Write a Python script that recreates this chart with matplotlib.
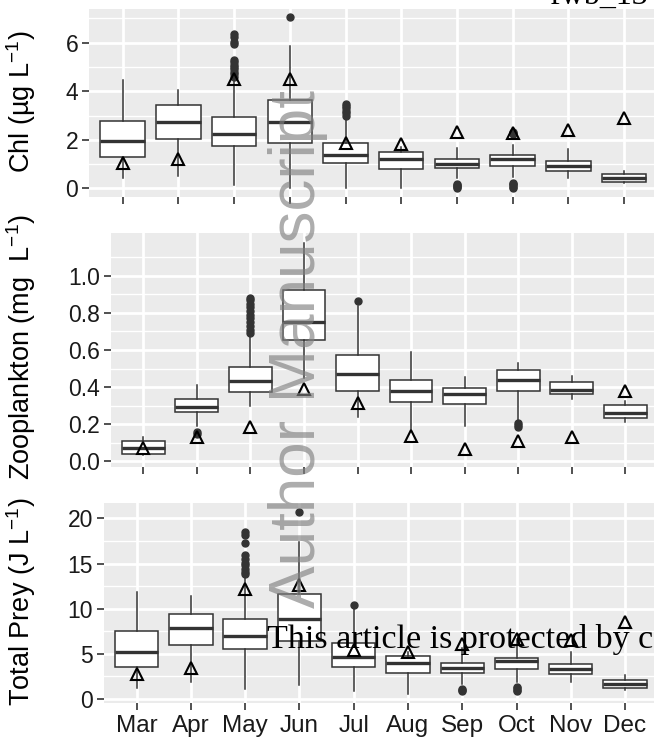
import matplotlib
matplotlib.use('Agg')
import matplotlib.pyplot as plt

plt.rcParams['font.family'] = ['Liberation Sans', 'DejaVu Sans']
plt.rcParams['mathtext.fontset'] = 'custom'
plt.rcParams['mathtext.rm'] = 'Liberation Sans'
plt.rcParams['mathtext.it'] = 'Liberation Sans:italic'

months = ['Mar', 'Apr', 'May', 'Jun', 'Jul', 'Aug', 'Sep', 'Oct', 'Nov', 'Dec']

# Chl (ug/L)
chl_lo = [0.44, 0.51, 0.14, 0.0, 0.0, 0.0, 0.42, 0.45, 0.41, 0.21]
chl_q1 = [1.30, 2.03, 1.76, 1.88, 1.03, 0.80, 0.82, 0.92, 0.71, 0.25]
chl_med = [1.96, 2.75, 2.24, 2.73, 1.37, 1.20, 1.00, 1.21, 0.92, 0.41]
chl_q3 = [2.79, 3.42, 2.93, 3.64, 1.86, 1.48, 1.21, 1.36, 1.13, 0.58]
chl_hi = [4.46, 4.05, 4.50, 5.87, 2.95, 1.72, 1.65, 1.79, 1.61, 0.73]
chl_tri = [1.03, 1.20, 4.50, 4.50, 1.86, 1.83, 2.31, 2.29, 2.40, 2.91]
chl_out = [[], [],
           [4.6, 4.7, 4.8, 4.9, 5.0, 5.1, 5.2, 5.3, 5.95, 6.05, 6.25, 6.38],
           [7.05],
           [3.0, 3.1, 3.2, 3.3, 3.4, 3.48],
           [],
           [0.0, 0.05, 0.1, 0.15, 0.2],
           [0.02, 0.07, 0.12, 0.17, 0.22, 2.26, 2.3, 2.34],
           [], []]

# Zooplankton (mg/L)
zoo_lo = [0.036, 0.19, 0.30, 0.449, 0.237, 0.162, 0.189, 0.215, 0.336, 0.215]
zoo_q1 = [0.04, 0.266, 0.373, 0.652, 0.382, 0.32, 0.309, 0.377, 0.363, 0.233]
zoo_med = [0.075, 0.294, 0.433, 0.749, 0.47, 0.379, 0.364, 0.44, 0.384, 0.259]
zoo_q3 = [0.108, 0.336, 0.506, 0.923, 0.571, 0.438, 0.393, 0.49, 0.429, 0.303]
zoo_hi = [0.13, 0.41, 0.68, 1.174, 0.835, 0.589, 0.452, 0.53, 0.461, 0.323]
zoo_tri = [0.075, 0.13, 0.185, 0.39, 0.314, 0.135, 0.068, 0.111, 0.133, 0.377]
zoo_out = [[], [0.15, 0.156],
           [0.69, 0.71, 0.73, 0.75, 0.77, 0.79, 0.81, 0.83, 0.85, 0.87, 0.88],
           [], [0.862], [], [],
           [0.185, 0.195, 0.205],
           [], []]

# Total prey (J/L)
prey_lo = [1.19, 1.85, 1.04, 1.48, 0.85, 0.56, 1.67, 1.85, 1.85, 0.93]
prey_q1 = [3.52, 5.93, 5.56, 6.44, 3.52, 2.85, 2.85, 3.33, 2.78, 1.19]
prey_med = [5.19, 7.89, 7.0, 8.89, 4.63, 4.0, 3.44, 4.19, 3.33, 1.67]
prey_q3 = [7.52, 9.44, 8.85, 11.67, 6.19, 4.74, 4.0, 4.52, 3.85, 2.11]
prey_hi = [11.85, 11.4, 13.7, 17.4, 10.0, 5.2, 5.6, 6.6, 5.2, 2.6]
prey_tri = [2.78, 3.41, 12.15, 12.6, 5.37, 5.19, 6.1, 6.67, 6.48, 8.52]
prey_out = [[], [],
            [13.8, 14.1, 14.4, 14.8, 15.1, 15.5, 15.9, 17.3, 18.2, 18.5],
            [20.74], [10.37], [],
            [0.85, 0.95, 1.05],
            [0.85, 1.0, 1.15, 1.3],
            [], []]

W, H = 654, 742
fig = plt.figure(figsize=(W / 100, H / 100), dpi=100)

BG = '#EBEBEB'
EDGE = '#333333'


def panel(rect, lo, q1, med, q3, hi, tri, out, ylim, yticks, yticklabels, minor):
    ax = fig.add_axes(rect)
    ax.set_facecolor(BG)
    for s in ax.spines.values():
        s.set_visible(False)
    stats = []
    for i in range(len(months)):
        stats.append(dict(whislo=lo[i], q1=q1[i], med=med[i], q3=q3[i],
                          whishi=hi[i], fliers=out[i], label=months[i]))
    pos = list(range(1, len(months) + 1))
    ax.bxp(stats, positions=pos, widths=0.8, patch_artist=True, showcaps=False,
           boxprops=dict(facecolor='white', edgecolor=EDGE, linewidth=1.1),
           medianprops=dict(color=EDGE, linewidth=2.4, solid_capstyle='butt'),
           whiskerprops=dict(color=EDGE, linewidth=1.1),
           flierprops=dict(marker='o', markerfacecolor=EDGE, markeredgecolor=EDGE,
                           markersize=5, linestyle='none'),
           zorder=3)
    ax.plot(pos, tri, linestyle='none', marker='^', markersize=8,
            markerfacecolor='none', markeredgecolor='black', markeredgewidth=1.5,
            zorder=4)
    ax.set_xlim(0.4, len(months) + 0.6)
    ax.set_ylim(*ylim)
    ax.set_yticks(yticks)
    ax.set_yticklabels(yticklabels)
    ax.set_yticks(minor, minor=True)
    ax.grid(True, which='major', color='white', linewidth=2.0, zorder=0)
    ax.grid(True, which='minor', axis='y', color='white', linewidth=1.0, zorder=0)
    ax.set_axisbelow(True)
    ax.tick_params(which='major', length=5, width=1.2, color=EDGE, pad=3,
                   labelsize=16.5, labelcolor='#1a1a1a')
    ax.tick_params(which='minor', length=0)
    ax.set_xticks(pos)
    return ax


ax1 = panel([89.3 / W, 1 - 197 / H, (657.4 - 89.3) / W, (197 - 9) / H],
            chl_lo, chl_q1, chl_med, chl_q3, chl_hi, chl_tri, chl_out,
            (-0.355, 7.39), [0, 2, 4, 6], ['0', '2', '4', '6'], [1, 3, 5, 7])
ax1.set_xticklabels([])

ax2 = panel([111.2 / W, 1 - 466.5 / H, (657.4 - 111.2) / W, (466.5 - 233.3) / H],
            zoo_lo, zoo_q1, zoo_med, zoo_q3, zoo_hi, zoo_tri, zoo_out,
            (-0.027, 1.228), [0, 0.2, 0.4, 0.6, 0.8, 1.0],
            ['0.0', '0.2', '0.4', '0.6', '0.8', '1.0'], [0.1, 0.3, 0.5, 0.7, 0.9, 1.1])
ax2.set_xticklabels([])

ax3 = panel([104.1 / W, 1 - 702.9 / H, (657.6 - 104.1) / W, (702.9 - 502.7) / H],
            prey_lo, prey_q1, prey_med, prey_q3, prey_hi, prey_tri, prey_out,
            (-0.45, 21.75), [0, 5, 10, 15, 20], ['0', '5', '10', '15', '20'],
            [2.5, 7.5, 12.5, 17.5])
ax3.set_xticklabels(months)
ax3.tick_params(axis='x', labelsize=17.5, pad=4)

# axis titles
fig.text(21 / W, 1 - 102 / H, 'Chl (µg L$^{-1}$)', rotation=90, ha='center', va='center',
         fontsize=19.5)
fig.text(21 / W, 1 - 347 / H, 'Zooplankton (mg  L$^{-1}$)', rotation=90, ha='center',
         va='center', fontsize=19.5)
fig.text(21 / W, 1 - 602 / H, 'Total Prey (J L$^{-1}$)', rotation=90, ha='center',
         va='center', fontsize=19.5)

# watermark and page text
fig.text(315 / W, 1 - 608 / H, 'Author Manuscript', rotation=90, rotation_mode='anchor',
         ha='left', va='baseline', fontsize=46, color='#808080', alpha=0.65, zorder=10)
fig.text(267 / W, 1 - 648 / H, 'This article is protected by copyright. All rights reserved',
         family='Liberation Serif', fontsize=24.5, color='black', ha='left', va='baseline',
         zorder=11)
fig.text(550 / W, 1 - 4 / H, 'fwb_13', family='Liberation Serif', fontsize=23,
         color='black', ha='left', va='baseline')

fig.savefig('out.png', dpi=100)
